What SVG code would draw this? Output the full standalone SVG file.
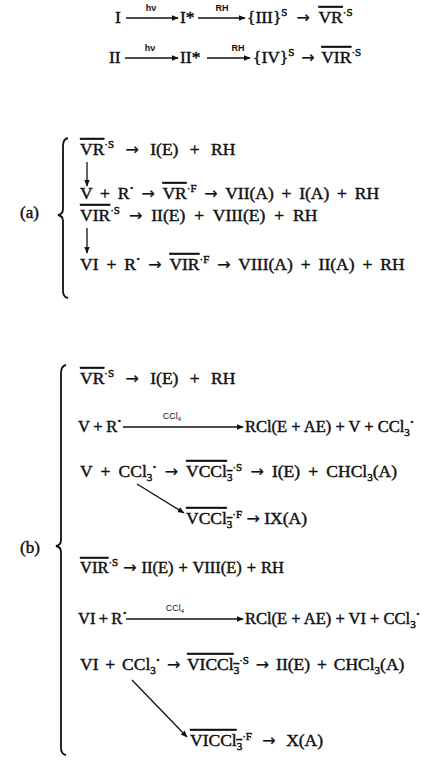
<svg xmlns="http://www.w3.org/2000/svg" width="429" height="760" viewBox="0 0 429 760">
<style>
text{font-family:"Liberation Serif","Times New Roman",serif;font-size:17.5px;fill:#111;stroke:#111;stroke-width:0.45}
.sm{font-size:16.5px}
.ar{font-family:"DejaVu Sans",sans-serif;font-size:16px;stroke-width:0.2}
.lbl{font-size:9px;font-family:"Liberation Sans",Arial,sans-serif;font-weight:bold;stroke:none}
.ol{text-decoration:overline}
.sup{font-size:11px}
.dot{font-size:13px;font-weight:bold}
.tag{font-size:17px}
.ln{stroke:#111;stroke-width:1.3;fill:none}
.br{stroke:#111;stroke-width:1.8;fill:none}
</style>
<defs>
<marker id="ah" viewBox="0 0 10 10" refX="9" refY="5" markerWidth="7" markerHeight="7" markerUnits="userSpaceOnUse" orient="auto"><path d="M0,1 L10,5 L0,9 Z" fill="#111"/></marker>
</defs>
<g id="connectors">
<line class="ln" x1="126" y1="18" x2="178" y2="18" marker-end="url(#ah)"/>
<line class="ln" x1="198" y1="18" x2="245" y2="18" marker-end="url(#ah)"/>
<line class="ln" x1="125" y1="58" x2="178" y2="58" marker-end="url(#ah)"/>
<line class="ln" x1="207" y1="58" x2="250" y2="58" marker-end="url(#ah)"/>
<line class="ln" x1="87" y1="162" x2="87" y2="186" marker-end="url(#ah)"/>
<line class="ln" x1="87" y1="228" x2="87" y2="253" marker-end="url(#ah)"/>
<line class="ln" x1="123" y1="427" x2="243" y2="427" marker-end="url(#ah)"/>
<line class="ln" x1="137" y1="484" x2="184" y2="513" marker-end="url(#ah)"/>
<line class="ln" x1="126" y1="619" x2="243" y2="619" marker-end="url(#ah)"/>
<line class="ln" x1="132" y1="680" x2="187" y2="737" marker-end="url(#ah)"/>
<text class="lbl" x="151" y="11" text-anchor="middle">hν</text>
<text class="lbl" x="222" y="11" text-anchor="middle">RH</text>
<text class="lbl" x="150" y="51" text-anchor="middle">hν</text>
<text class="lbl" x="238" y="51" text-anchor="middle">RH</text>
<text class="lbl" x="172" y="419" text-anchor="middle" style="font-weight:normal">CCl<tspan font-size="6" dy="2">4</tspan></text>
<text class="lbl" x="175" y="611" text-anchor="middle" style="font-weight:normal">CCl<tspan font-size="6" dy="2">4</tspan></text>
</g>
<g id="braces">
<path class="br" d="M68,138 Q63,139 63,146 L63,209 Q63,214 58,215 Q63,216 63,221 L63,291 Q63,297 68,298"/>
<path class="br" d="M66,365 Q61,366 61,373 L61,540 Q61,545 56,546 Q61,547 61,552 L61,748 Q61,754 66,755"/>
<text class="tag" x="20" y="218">(a)</text>
<text class="tag" x="20" y="553">(b)</text>
</g>
<g id="top1">
<text x="115" y="23">I</text>
<text x="180" y="23">I*</text>
<text x="247" y="23" word-spacing="4.6">{III}<tspan class="sup" dy="-7">S</tspan><tspan dy="7"> </tspan><tspan class="ar">→</tspan> <tspan class="ol">VR</tspan><tspan class="sup" dy="-7">·S</tspan></text>
</g>
<g id="top2">
<text x="109" y="63">II</text>
<text x="180" y="63">II*</text>
<text x="253" y="63" word-spacing="2.5">{IV}<tspan class="sup" dy="-7">S</tspan><tspan dy="7"> </tspan><tspan class="ar">→</tspan> <tspan class="ol">VIR</tspan><tspan class="sup" dy="-7">·S</tspan></text>
</g>
<g id="a1"><text x="80" y="155" word-spacing="7"><tspan class="ol">VR</tspan><tspan class="sup" dy="-7">·S</tspan><tspan dy="7"> </tspan><tspan class="ar">→</tspan> I(E) + RH</text></g>
<g id="a2"><text x="80" y="199" word-spacing="3.4">V + R<tspan class="dot" dy="-7">·</tspan><tspan dy="7"> </tspan><tspan class="ar">→</tspan> <tspan class="ol">VR</tspan><tspan class="sup" dy="-7">·F</tspan><tspan dy="7"> </tspan><tspan class="ar">→</tspan> VII(A) + I(A) + RH</text></g>
<g id="a3"><text x="80" y="221" word-spacing="4.6"><tspan class="ol">VIR</tspan><tspan class="sup" dy="-7">·S</tspan><tspan dy="7"> </tspan><tspan class="ar">→</tspan> II(E) + VIII(E) + RH</text></g>
<g id="a4"><text x="80" y="270" word-spacing="3.6">VI + R<tspan class="dot" dy="-7">·</tspan><tspan dy="7"> </tspan><tspan class="ar">→</tspan> <tspan class="ol">VIR</tspan><tspan class="sup" dy="-7">·F</tspan><tspan dy="7"> </tspan><tspan class="ar">→</tspan> VIII(A) + II(A) + RH</text></g>
<g id="b1"><text x="80" y="384" word-spacing="7"><tspan class="ol">VR</tspan><tspan class="sup" dy="-7">·S</tspan><tspan dy="7"> </tspan><tspan class="ar">→</tspan> I(E) + RH</text></g>
<g id="b2"><text class="sm" x="78" y="432" word-spacing="-0.5">V + R<tspan class="dot" dy="-7">·</tspan></text><text class="sm" x="245" y="432" word-spacing="0">RCl(E + AE) + V + CCl<tspan class="sup" dy="4">3</tspan><tspan class="dot" dy="-10">·</tspan></text></g>
<g id="b3"><text x="80" y="477" word-spacing="3.8">V + CCl<tspan class="sup" dy="4">3</tspan><tspan class="dot" dy="-10">·</tspan><tspan dy="6"> </tspan><tspan class="ar">→</tspan> <tspan class="ol">VCCl<tspan class="sup" dy="4">3</tspan></tspan><tspan class="sup" dy="-10">·S</tspan><tspan dy="6"> </tspan><tspan class="ar">→</tspan> I(E) + CHCl<tspan class="sup" dy="4">3</tspan><tspan dy="-4">(A)</tspan></text></g>
<g id="b4"><text x="186" y="524" word-spacing="0"><tspan class="ol">VCCl<tspan class="sup" dy="4">3</tspan></tspan><tspan class="sup" dy="-10">·F</tspan><tspan dy="6"> </tspan><tspan class="ar">→</tspan> IX(A)</text></g>
<g id="b5"><text class="sm" x="80" y="573" word-spacing="0.8"><tspan class="ol">VIR</tspan><tspan class="sup" dy="-7">·S</tspan><tspan dy="7"> </tspan><tspan class="ar">→</tspan> II(E) + VIII(E) + RH</text></g>
<g id="b6"><text class="sm" x="78" y="624" word-spacing="-0.8">VI + R<tspan class="dot" dy="-7">·</tspan></text><text class="sm" x="245" y="624" word-spacing="0">RCl(E + AE) + VI + CCl<tspan class="sup" dy="4">3</tspan><tspan class="dot" dy="-10">·</tspan></text></g>
<g id="b7"><text x="80" y="670" word-spacing="2.5">VI + CCl<tspan class="sup" dy="4">3</tspan><tspan class="dot" dy="-10">·</tspan><tspan dy="6"> </tspan><tspan class="ar">→</tspan> <tspan class="ol">VICCl<tspan class="sup" dy="4">3</tspan></tspan><tspan class="sup" dy="-10">·S</tspan><tspan dy="6"> </tspan><tspan class="ar">→</tspan> II(E) + CHCl<tspan class="sup" dy="4">3</tspan><tspan dy="-4">(A)</tspan></text></g>
<g id="b8"><text x="190" y="746" word-spacing="6"><tspan class="ol">VICCl<tspan class="sup" dy="4">3</tspan></tspan><tspan class="sup" dy="-10">·F</tspan><tspan dy="6"> </tspan><tspan class="ar">→</tspan> X(A)</text></g>
</svg>
